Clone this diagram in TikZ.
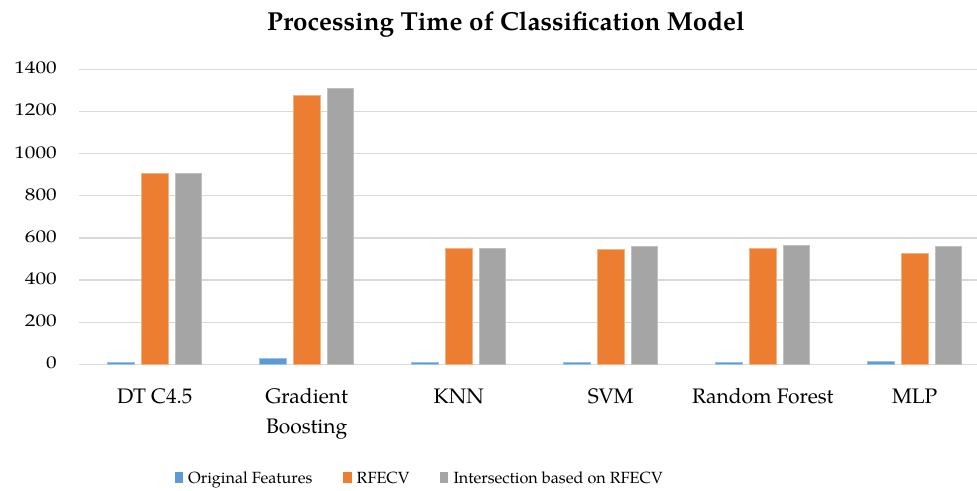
\documentclass[tikz,border=0pt]{standalone}
\usepackage{fontspec}
\setmainfont{TeX Gyre Pagella}
\newfontfamily\widepag{TeX Gyre Pagella}[FakeStretch=1.25]
\definecolor{serA}{HTML}{5B9BD5}
\definecolor{serB}{HTML}{ED7D31}
\definecolor{serC}{HTML}{A5A5A5}
\definecolor{gridc}{HTML}{D9D9D9}
\newcommand\tickfnt{\widepag\fontsize{17}{20}\selectfont}
\newcommand\catfnt{\fontsize{21}{24}\selectfont}
\newcommand\legfnt{\fontsize{16.2}{20}\selectfont}
\newcommand\titfnt{\fontsize{26}{30}\selectfont\bfseries}
\tikzset{
  gridline/.style={draw=gridc, line width=1.3pt},
  barA/.style={fill=serA, draw=serA!60!white, line width=0.5pt},
  barB/.style={fill=serB, draw=serB!60!white, line width=0.5pt},
  barC/.style={fill=serC, draw=serC!70!white, line width=0.5pt},
  ticklab/.style={anchor=base east, font=\tickfnt, inner sep=0pt},
  catlab/.style={anchor=base, font=\catfnt, inner sep=0pt},
  leglab/.style={anchor=base west, font=\legfnt, inner sep=0pt},
}
\begin{document}
\begin{tikzpicture}[x=1pt,y=-1pt]
\useasboundingbox (0,0) rectangle (977,490);
\fill[white] (0,0) rectangle (977,490);
% title
\node[anchor=base, font=\titfnt, inner sep=0pt] (title) at (506,30) {Processing Time of Classification Model};
% grid and tick labels
\foreach \v [count=\k] in {0,200,400,600,800,1000,1200,1400} {
  \pgfmathsetmacro\yy{364.3-\v*0.2107}
  \draw[gridline] (79,\yy) -- (977,\yy);
  \node[ticklab] (tick\k) at (57,\yy+4.5) {\v};
}
% bars
\foreach \i/\a/\b/\c in {0/9.5/906/906, 1/28/1278/1312, 2/8/552/552, 3/8/546/558, 4/8/552/566, 5/16/525/558} {
  \pgfmathsetmacro\cx{154.7+152*\i}
  \fill[barA] (\cx-47,364.3) rectangle (\cx-20.7,{364.3-\a*0.2107});
  \fill[barB] (\cx-13.2,364.3) rectangle (\cx+13.2,{364.3-\b*0.2107});
  \fill[barC] (\cx+20.5,364.3) rectangle (\cx+46.8,{364.3-\c*0.2107});
}
% category labels
\node[catlab] (c1) at (154.7,403) {DT C4.5};
\node[catlab] (c2a) at (306.7,403) {Gradient};
\node[catlab] (c2b) at (306.7,433) {Boosting};
\node[catlab] (c3) at (458.7,403) {KNN};
\node[catlab] (c4) at (610.7,403) {SVM};
\node[catlab] (c5) at (762.7,403) {Random Forest};
\node[catlab] (c6) at (914.7,403) {MLP};
% legend
\fill[serA] (175,471.7) rectangle (183.3,483.3);
\node[leglab] (l1) at (188,483.3) {Original Features};
\fill[serB] (343.3,471.7) rectangle (351.7,483.3);
\node[leglab] (l2) at (356.5,483.3) {RFECV};
\fill[serC] (440,471.7) rectangle (448.3,483.3);
\node[leglab] (l3) at (453.3,483.3) {Intersection based on RFECV};
\end{tikzpicture}
\end{document}
